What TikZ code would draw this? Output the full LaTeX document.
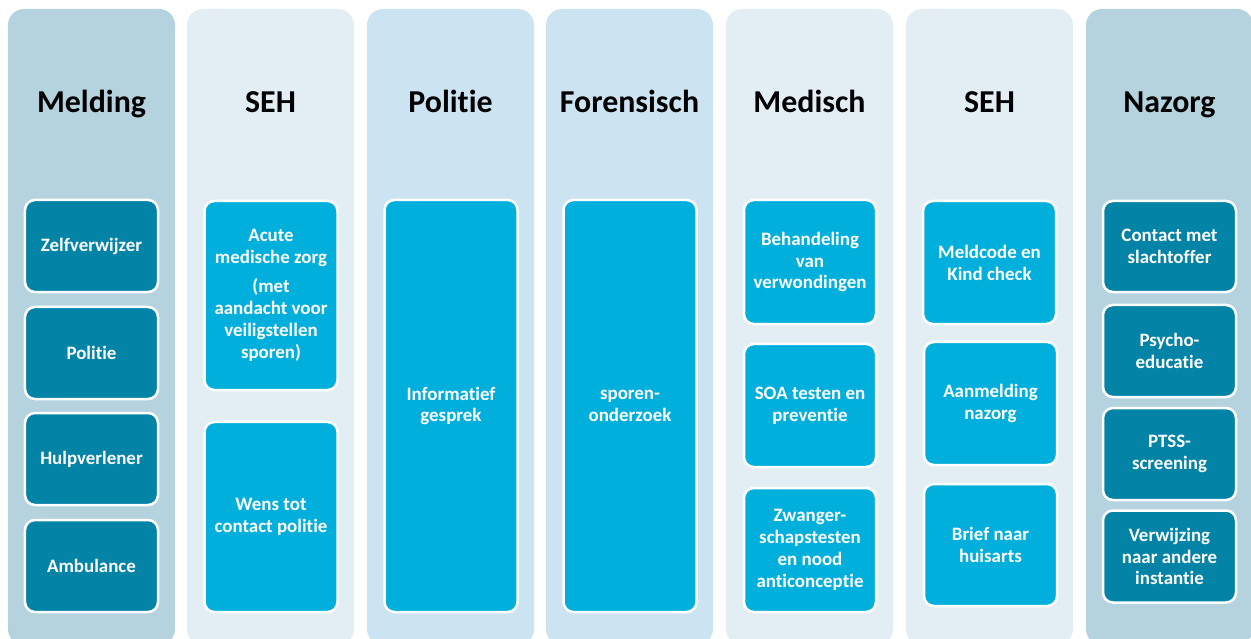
\documentclass[tikz,border=0pt]{standalone}
\usepackage{fontspec}
\setmainfont[Ligatures=NoCommon]{Carlito}
\usepackage{tikz}
\definecolor{laneDark}{HTML}{B4D3DE}
\definecolor{laneLight}{HTML}{E3EEF4}
\definecolor{laneBlue}{HTML}{CCE3F2}
\definecolor{stapDonker}{HTML}{0383A5}
\definecolor{stapLicht}{HTML}{00AFDB}

\begin{document}
\begin{tikzpicture}[x=1bp,y=1bp]
\tikzstyle{every node}+=[inner sep=0pt, align=center]
\tikzstyle{lane}=[rounded corners=16bp, minimum width=167bp, minimum height=636bp]
\tikzstyle{kop}=[anchor=base, font=\fontsize{32}{36}\selectfont\bfseries, text=black]
\tikzstyle{stap}=[draw=white, line width=2.5bp, rounded corners=10bp, minimum width=133bp, text=white, font=\fontsize{19}{22}\selectfont\bfseries]
\useasboundingbox (0,0) rectangle (1251,-639);
\clip (0,0) rectangle (1251,-639);
% kolommen
\node [lane, fill=laneDark] (melding) at (91.5,-327) {};
\node [lane, fill=laneLight] (seh) at (270.5,-327) {};
\node [lane, fill=laneBlue] (politie) at (450.5,-327) {};
\node [lane, fill=laneBlue] (forensisch) at (629.5,-327) {};
\node [lane, fill=laneLight] (medisch) at (809.5,-327) {};
\node [lane, fill=laneLight] (sehTwee) at (989.5,-327) {};
\node [lane, fill=laneDark] (nazorg) at (1169.5,-327) {};
% koppen
\node [kop] (kopMelding) at (91.5,-113) {Melding};
\node [kop] (kopSeh) at (270.5,-113) {SEH};
\node [kop] (kopPolitie) at (450.5,-113) {Politie};
\node [kop] (kopForensisch) at (629.5,-113) {Forensisch};
\node [kop] (kopMedisch) at (809.5,-113) {Medisch};
\node [kop] (kopSehTwee) at (989.5,-113) {SEH};
\node [kop] (kopNazorg) at (1169.5,-113) {Nazorg};
% melding
\node [stap, fill=stapDonker, minimum height=92bp] (zelf) at (91.5,-246) {Zelfverwijzer};
\node [stap, fill=stapDonker, minimum height=92bp] (pol) at (91.5,-353) {Politie};
\node [stap, fill=stapDonker, minimum height=92bp] (hulp) at (91.5,-459) {Hulpverlener};
\node [stap, fill=stapDonker, minimum height=92bp] (amb) at (91.5,-566) {Ambulance};
% seh
\node [stap, fill=stapLicht, minimum height=189bp] (acuut) at (271,-295.5) {Acute\\medische zorg\\[7bp](met\\aandacht voor\\veiligstellen\\sporen)};
\node [stap, fill=stapLicht, minimum height=190bp] (wens) at (271,-517) {Wens tot\\contact politie};
% politie en forensisch
\node [stap, fill=stapLicht, minimum height=412bp] (info) at (451,-406) {Informatief\\gesprek};
\node [stap, fill=stapLicht, minimum height=412bp] (sporen) at (630,-406) {sporen-\\onderzoek};
% medisch
\node [stap, fill=stapLicht, minimum width=132bp, minimum height=124bp] (behandeling) at (810,-262) {Behandeling\\van\\verwondingen};
\node [stap, fill=stapLicht, minimum width=132bp, minimum height=123bp] (soa) at (810,-405.5) {SOA testen en\\preventie};
\node [stap, fill=stapLicht, minimum width=132bp, minimum height=124bp] (zwanger) at (810,-550) {Zwanger-\\schapstesten\\en nood\\anticonceptie};
% seh na
\node [stap, fill=stapLicht, minimum height=123bp] (meldcode) at (989.5,-262.5) {Meldcode en\\Kind check};
\node [stap, fill=stapLicht, minimum height=123bp] (aanmelding) at (990.5,-403.5) {Aanmelding\\nazorg};
\node [stap, fill=stapLicht, minimum height=122bp] (brief) at (990.5,-545) {Brief naar\\huisarts};
% nazorg
\node [stap, fill=stapDonker, minimum height=91bp] (contact) at (1169.5,-246.5) {Contact met\\slachtoffer};
\node [stap, fill=stapDonker, minimum height=92bp] (psycho) at (1169.5,-351) {Psycho-\\educatie};
\node [stap, fill=stapDonker, minimum height=92bp] (ptss) at (1169.5,-454) {PTSS-\\screening};
\node [stap, fill=stapDonker, minimum height=92bp] (verwijzing) at (1169.5,-556.5) {Verwijzing\\naar andere\\instantie};
\end{tikzpicture}
\end{document}
